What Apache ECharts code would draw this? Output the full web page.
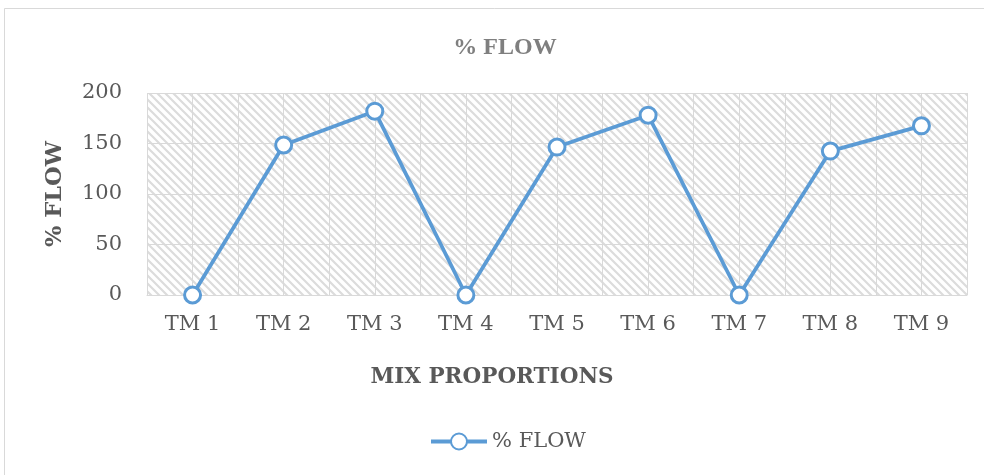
<!DOCTYPE html>
<html>
<head>
<meta charset="utf-8">
<script src="https://cdn.jsdelivr.net/npm/echarts@6/dist/echarts.min.js"></script>
<style>html,body{margin:0;padding:0;background:#fff}#c{width:984px;height:475px}</style>
</head>
<body>
<div id="c"></div>
<script>
var categories = ['TM 1','TM 2','TM 3','TM 4','TM 5','TM 6','TM 7','TM 8','TM 9'];
var flowValues = [0, 148.5, 182, 0, 146.5, 178, 0, 142.5, 167.5];
var seriesName = '% FLOW';
var yTicks = {min: 0, max: 200, interval: 50};

var FONT = '"DejaVu Serif", "Liberation Serif", serif';

// hatch pattern
var tile = document.createElement('canvas');
tile.width = 8; tile.height = 8;
var g = tile.getContext('2d');
g.fillStyle = '#ffffff'; g.fillRect(0,0,8,8);
g.strokeStyle = '#dcdcdc'; g.lineWidth = 2.2;
g.beginPath();
g.moveTo(-2,-2); g.lineTo(10,10);
g.moveTo(-10,-2); g.lineTo(2,10);
g.moveTo(6,-2); g.lineTo(18,10);
g.stroke();

var chart = echarts.init(document.getElementById('c'), null, {renderer:'canvas'});
chart.setOption({
  animation: false,
  backgroundColor: '#ffffff',
  graphic: [{
    type: 'rect', shape: {x: 4.5, y: 8.5, width: 1000, height: 500},
    style: {fill: 'none', stroke: '#d9d9d9', lineWidth: 1}, silent: true, z: -1
  }],
  title: [{
    text: seriesName, left: 500, top: 31, textAlign: 'center',
    textStyle: {fontFamily: '"Liberation Serif", serif', fontWeight: 'bold', fontSize: 24, color: '#7f7f7f'}
  }, {
    text: 'MIX PROPORTIONS', left: 'center', top: 361,
    textStyle: {fontFamily: FONT, fontWeight: 'bold', fontSize: 21.5, color: '#595959'}
  }],
  legend: {
    data: [seriesName], left: 424, top: 426, itemWidth: 56, itemHeight: 20,
    lineStyle: {width: 4},
    textStyle: {fontFamily: FONT, fontSize: 21, color: '#595959'}
  },
  grid: {
    left: 147, right: 17, top: 93, bottom: 180, show: true,
    backgroundColor: {image: tile, repeat: 'repeat'}, borderWidth: 0
  },
  xAxis: [{
    type: 'category', data: categories, boundaryGap: true,
    axisLine: {show: true, lineStyle: {color: '#d9d9d9', width: 1}},
    axisTick: {show: false},
    splitLine: {show: false},
    axisLabel: {fontFamily: FONT, fontSize: 21, color: '#595959', margin: 19}
  }, {
    type: 'value', min: 0, max: 18, interval: 1, position: 'bottom',
    axisLine: {show: false}, axisTick: {show: false}, axisLabel: {show: false},
    splitLine: {show: true, lineStyle: {color: '#d9d9d9', width: 1}}
  }],
  yAxis: {
    type: 'value', min: yTicks.min, max: yTicks.max, interval: yTicks.interval,
    name: seriesName, nameLocation: 'middle', nameGap: 80,
    nameTextStyle: {fontFamily: FONT, fontWeight: 'bold', fontSize: 22.5, color: '#595959'},
    axisLine: {show: false}, axisTick: {show: false},
    axisLabel: {fontFamily: FONT, fontSize: 21, color: '#595959', margin: 25},
    splitLine: {show: true, lineStyle: {color: '#d9d9d9', width: 1}}
  },
  series: [{
    name: seriesName, type: 'line', xAxisIndex: 0, data: flowValues,
    symbol: 'circle', symbolSize: 16,
    lineStyle: {color: '#5b9bd5', width: 3.75},
    itemStyle: {color: '#ffffff', borderColor: '#5b9bd5', borderWidth: 3},
    z: 5
  }]
});
</script>
</body>
</html>
